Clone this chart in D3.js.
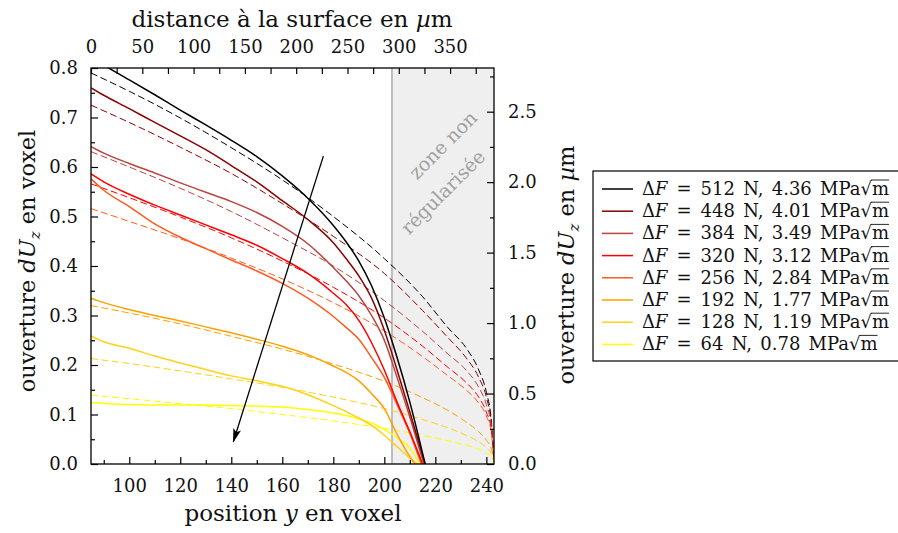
<!DOCTYPE html>
<html>
<head>
<meta charset="utf-8">
<script src="https://cdn.jsdelivr.net/npm/d3@7"></script>
<style>
    body { margin: 0; background: #fff; }
    svg text { font-family: "DejaVu Serif", "Liberation Serif", serif; fill: #111; }
</style>
</head>
<body>
<div id="chart"></div>
<script>
// positions (voxel) where the measured openings were read
const posMeasured = [85, 90, 100, 110, 120, 130, 140, 150, 160, 170, 180, 185, 190, 195, 200, 205, 210];
// positions (voxel) for the fitted (dashed) curves
const posFit = [85, 100, 120, 140, 160, 180, 200, 215, 225, 232, 237, 240, 242, 243];

const forces = ["512", "448", "384", "320", "256", "192", "128", "64"];
const sifs = ["4.36", "4.01", "3.49", "3.12", "2.84", "1.77", "1.19", "0.78"];
const colors = ["#000000", "#8b0000", "#b8443f", "#ff0000", "#ff5a1f", "#ffa000", "#ffd21a", "#ffff00"];

// measured opening dUz (voxel), solid lines
const meas512 = [0.818, 0.805, 0.776, 0.746, 0.715, 0.685, 0.654, 0.621, 0.582, 0.537, 0.482, 0.449, 0.41, 0.36, 0.295, 0.215, 0.125];
const meas448 = [0.760, 0.745, 0.718, 0.690, 0.663, 0.635, 0.603, 0.570, 0.532, 0.494, 0.447, 0.415, 0.38, 0.335, 0.27, 0.19, 0.105];
const meas384 = [0.641, 0.628, 0.607, 0.588, 0.568, 0.549, 0.530, 0.508, 0.48, 0.445, 0.397, 0.37, 0.34, 0.3, 0.25, 0.175, 0.095];
const meas320 = [0.586, 0.57, 0.545, 0.523, 0.503, 0.483, 0.463, 0.442, 0.415, 0.385, 0.345, 0.322, 0.29, 0.245, 0.19, 0.125, 0.065];
const meas256 = [0.576, 0.553, 0.52, 0.485, 0.458, 0.435, 0.412, 0.39, 0.365, 0.335, 0.298, 0.276, 0.252, 0.215, 0.175, 0.12, 0.062];
const meas192 = [0.335, 0.326, 0.312, 0.300, 0.289, 0.277, 0.265, 0.252, 0.238, 0.221, 0.198, 0.185, 0.168, 0.142, 0.112, 0.06, 0.015];
const meas128 = [0.259, 0.247, 0.234, 0.218, 0.204, 0.191, 0.178, 0.168, 0.157, 0.14, 0.118, 0.106, 0.093, 0.078, 0.058, 0.035, 0.012];
const meas64 = [0.124, 0.122, 0.120, 0.119, 0.119, 0.119, 0.118, 0.117, 0.115, 0.110, 0.103, 0.098, 0.091, 0.083, 0.07, 0.053, 0.032];
// where each measured curve reaches zero
const measEnd = [216, 216, 215.5, 215, 214.5, 212, 213, 214];

// fitted opening (voxel), dashed lines
const fit512 = [0.790, 0.753, 0.699, 0.639, 0.574, 0.500, 0.415, 0.338, 0.275, 0.235, 0.19, 0.145, 0.085, 0];
const fit448 = [0.725, 0.690, 0.640, 0.587, 0.526, 0.46, 0.385, 0.31, 0.255, 0.215, 0.175, 0.135, 0.08, 0];
const fit384 = [0.631, 0.600, 0.557, 0.510, 0.457, 0.400, 0.33, 0.268, 0.222, 0.19, 0.155, 0.12, 0.075, 0];
const fit320 = [0.566, 0.538, 0.499, 0.457, 0.41, 0.357, 0.295, 0.238, 0.195, 0.165, 0.135, 0.105, 0.068, 0];
const fit256 = [0.516, 0.490, 0.455, 0.416, 0.374, 0.326, 0.269, 0.217, 0.178, 0.15, 0.123, 0.097, 0.062, 0];
const fit192 = [0.320, 0.305, 0.283, 0.258, 0.232, 0.202, 0.167, 0.134, 0.108, 0.085, 0.065, 0.048, 0.03, 0];
const fit128 = [0.213, 0.203, 0.188, 0.172, 0.155, 0.135, 0.112, 0.09, 0.073, 0.058, 0.045, 0.033, 0.02, 0];
const fit64 = [0.139, 0.132, 0.122, 0.112, 0.100, 0.087, 0.072, 0.058, 0.047, 0.038, 0.03, 0.022, 0.014, 0];

// arrow (increasing load -> decreasing), [position, opening]
const arrowStart = [176.1, 0.622];
const arrowEnd = [140.8, 0.045];

const zoneStart = 203;
const maxMicron = 392.8;   // top axis extent
const maxOpeningMicron = 2.81; // right axis extent

class OpeningChart {
    constructor(parentElement) {
        this.parentElement = parentElement;
        this.initVis();
    }

    initVis() {
        let vis = this;

        vis.margin = { top: 68, right: 404, bottom: 69, left: 91 };
        vis.width = 403;
        vis.height = 396;

        vis.root = d3.select(`#${vis.parentElement}`).append("svg")
            .attr("width", 898)
            .attr("height", 533);
        vis.svg = vis.root.append("g")
            .attr("transform", `translate(${vis.margin.left},${vis.margin.top})`);

        vis.x = d3.scaleLinear().domain([85, 243]).range([0, vis.width]);
        vis.y = d3.scaleLinear().domain([0, 0.8]).range([vis.height, 0]);
        vis.xTop = d3.scaleLinear().domain([0, maxMicron]).range([0, vis.width]);
        vis.yRight = d3.scaleLinear().domain([0, maxOpeningMicron]).range([vis.height, 0]);

        vis.svg.append("clipPath").attr("id", "plot-clip")
            .append("rect").attr("width", vis.width).attr("height", vis.height);

        vis.wrangleData();
    }

    wrangleData() {
        let vis = this;
        const meas = [meas512, meas448, meas384, meas320, meas256, meas192, meas128, meas64];
        const fits = [fit512, fit448, fit384, fit320, fit256, fit192, fit128, fit64];
        vis.displayData = forces.map((f, i) => ({
            force: f,
            sif: sifs[i],
            color: colors[i],
            measured: posMeasured.map((p, j) => [p, meas[i][j]]).concat([[measEnd[i], 0]]),
            fitted: posFit.map((p, j) => [p, fits[i][j]])
        }));
        vis.updateVis();
    }

    updateVis() {
        let vis = this;

        // non regularised zone
        vis.svg.append("rect")
            .attr("x", vis.x(zoneStart))
            .attr("y", 0)
            .attr("width", vis.x(243) - vis.x(zoneStart))
            .attr("height", vis.height)
            .attr("fill", "#efefef");
        vis.svg.append("line")
            .attr("x1", vis.x(zoneStart)).attr("x2", vis.x(zoneStart))
            .attr("y1", 0).attr("y2", vis.height)
            .attr("stroke", "#aaaaaa")
            .attr("stroke-width", 1.5);

        [["zone non", 443, 145], ["régularisée", 443, 192]].forEach(d => {
            vis.root.append("text")
                .attr("transform", `translate(${d[1]},${d[2]}) rotate(-45)`)
                .attr("text-anchor", "middle")
                .attr("dy", "0.35em")
                .style("fill", "#a0a0a0")
                .style("font-size", "19px")
                .text(d[0]);
        });

        let line = d3.line()
            .x(d => vis.x(d[0]))
            .y(d => vis.y(d[1]))
            .curve(d3.curveMonotoneX);

        let curves = vis.svg.append("g").attr("clip-path", "url(#plot-clip)");

        // fitted dashed lines first, measured on top
        curves.selectAll("path.fit").data(vis.displayData)
            .enter().append("path")
            .attr("class", "fit")
            .attr("d", d => line(d.fitted))
            .attr("fill", "none")
            .attr("stroke", d => d.color)
            .attr("stroke-width", 1)
            .attr("stroke-dasharray", "7,3.5");

        curves.selectAll("path.meas").data(vis.displayData.slice().reverse())
            .enter().append("path")
            .attr("class", "meas")
            .attr("d", d => line(d.measured))
            .attr("fill", "none")
            .attr("stroke", d => d.color)
            .attr("stroke-width", 1.5);

        // arrow
        vis.root.append("defs").append("marker")
            .attr("id", "arrowhead")
            .attr("markerUnits", "userSpaceOnUse")
            .attr("viewBox", "0 0 14 8")
            .attr("refX", 13).attr("refY", 4)
            .attr("markerWidth", 14).attr("markerHeight", 8)
            .attr("orient", "auto")
            .append("path")
            .attr("d", "M0,0 L14,4 L0,8 L3,4 Z")
            .attr("fill", "#000");
        vis.svg.append("line")
            .attr("x1", vis.x(arrowStart[0])).attr("y1", vis.y(arrowStart[1]))
            .attr("x2", vis.x(arrowEnd[0])).attr("y2", vis.y(arrowEnd[1]))
            .attr("stroke", "#000")
            .attr("stroke-width", 1.3)
            .attr("marker-end", "url(#arrowhead)");

        // axes (ticks pointing inwards)
        const axisStyle = g => {
            g.select(".domain").remove();
            g.selectAll("line").attr("stroke", "#000").attr("stroke-width", 1.2);
            g.selectAll("text").style("font-size", "18px").attr("fill", "#111");
        };

        vis.svg.append("g")
            .attr("transform", `translate(0,${vis.height})`)
            .call(d3.axisBottom(vis.x).tickValues(d3.range(90, 240, 20)).tickSize(-4).tickFormat(""))
            .call(axisStyle);
        vis.svg.append("g")
            .attr("transform", `translate(0,${vis.height})`)
            .call(d3.axisBottom(vis.x).tickValues(d3.range(100, 241, 20)).tickSizeInner(-7).tickSizeOuter(0).tickPadding(15))
            .call(axisStyle);

        vis.svg.append("g")
            .call(d3.axisTop(vis.xTop).tickValues(d3.range(25, 390, 50)).tickSize(-6).tickFormat(""))
            .call(axisStyle);
        vis.svg.append("g")
            .call(d3.axisTop(vis.xTop).tickValues(d3.range(0, 351, 50)).tickSizeInner(-6).tickSizeOuter(0).tickPadding(15))
            .call(axisStyle);

        vis.svg.append("g")
            .call(d3.axisLeft(vis.y).tickValues(d3.range(0.05, 0.8, 0.1)).tickSize(-4).tickFormat(""))
            .call(axisStyle);
        vis.svg.append("g")
            .call(d3.axisLeft(vis.y).tickValues(d3.range(0, 0.81, 0.1)).tickSizeInner(-7).tickSizeOuter(0).tickPadding(13).tickFormat(d3.format(".1f")))
            .call(axisStyle);

        vis.svg.append("g")
            .attr("transform", `translate(${vis.width},0)`)
            .call(d3.axisRight(vis.yRight).tickValues([0.25, 0.75, 1.25, 1.75, 2.25, 2.75]).tickSize(-4).tickFormat(""))
            .call(axisStyle);
        vis.svg.append("g")
            .attr("transform", `translate(${vis.width},0)`)
            .call(d3.axisRight(vis.yRight).tickValues([0, 0.5, 1, 1.5, 2, 2.5]).tickSizeInner(-7).tickSizeOuter(0).tickPadding(14).tickFormat(d3.format(".1f")))
            .call(axisStyle);

        // frame
        vis.svg.append("rect")
            .attr("width", vis.width)
            .attr("height", vis.height)
            .attr("fill", "none")
            .attr("stroke", "#000")
            .attr("stroke-width", 1.3);

        // axis titles
        let bottomTitle = vis.root.append("text")
            .attr("x", 293).attr("y", 521)
            .attr("text-anchor", "middle")
            .style("font-size", "23px");
        bottomTitle.append("tspan").text("position ");
        bottomTitle.append("tspan").style("font-style", "italic").text("y");
        bottomTitle.append("tspan").text(" en voxel");

        let topTitle = vis.root.append("text")
            .attr("x", 292).attr("y", 27)
            .attr("text-anchor", "middle")
            .style("font-size", "23px");
        topTitle.append("tspan").text("distance à la surface en ");
        topTitle.append("tspan").style("font-style", "italic").text("µ");
        topTitle.append("tspan").text("m");

        const openingTitle = (x, y, unit, italicMu) => {
            let t = vis.root.append("text")
                .attr("transform", `translate(${x},${y}) rotate(-90)`)
                .attr("text-anchor", "middle")
                .style("font-size", "22.5px");
            t.append("tspan").text("ouverture ");
            t.append("tspan").style("font-style", "italic").text("dU");
            t.append("tspan").style("font-style", "italic").style("font-size", "15px").attr("dy", 5).text("z");
            t.append("tspan").attr("dy", -5).text(" en ");
            if (italicMu) {
                t.append("tspan").style("font-style", "italic").text("µ");
                t.append("tspan").text("m");
            } else {
                t.append("tspan").text(unit);
            }
        };
        openingTitle(35, 261, "voxel", false);
        openingTitle(574, 265, "", true);

        // legend
        let legend = vis.root.append("g").attr("class", "legend");
        legend.append("rect")
            .attr("x", 593).attr("y", 171)
            .attr("width", 312).attr("height", 190)
            .attr("fill", "#fff")
            .attr("stroke", "#000")
            .attr("stroke-width", 1.2);

        vis.displayData.forEach((d, i) => {
            let cy = 189 + i * 22.2;
            legend.append("line")
                .attr("x1", 602).attr("x2", 633)
                .attr("y1", cy).attr("y2", cy)
                .attr("stroke", d.color)
                .attr("stroke-width", 1.5);
            let t = legend.append("text")
                .attr("x", 642).attr("y", cy + 6)
                .style("font-size", "18px")
                .attr("word-spacing", "2.5px");
            t.append("tspan").text("Δ");
            t.append("tspan").style("font-style", "italic").text("F");
            t.append("tspan").text(`\u2002=\u2002${d.force} N, ${d.sif} MPa`);
            t.append("tspan").text("√");
            t.append("tspan").text("m");
            // overline of the square root
            let node = t.node();
            let n = node.getNumberOfChars();
            let root = node.getExtentOfChar(n - 2);
            let m = node.getExtentOfChar(n - 1);
            legend.append("line")
                .attr("x1", root.x + root.width - 1).attr("x2", m.x + m.width)
                .attr("y1", root.y + 2).attr("y2", root.y + 2)
                .attr("stroke", "#111")
                .attr("stroke-width", 0.9);
        });
    }
}

new OpeningChart("chart");
</script>
</body>
</html>
